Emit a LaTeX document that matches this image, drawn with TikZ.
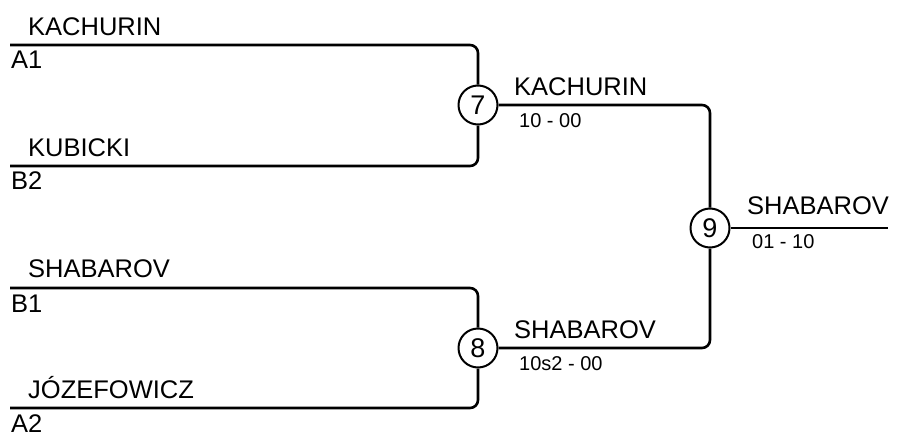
\documentclass[tikz,border=0pt]{standalone}
\usepackage{fontspec}
\setmainfont{Liberation Sans}
\usetikzlibrary{positioning}
\tikzset{
  match/.style={
    circle,
    draw=black,
    line width=2pt,
    inner sep=0pt,
    minimum size=39pt,
    font=\fontsize{27}{32}\selectfont
  },
  player/.style={
    anchor=base west,
    inner sep=0pt,
    font=\fontsize{25.5}{30}\selectfont
  },
  seed/.style={
    player
  },
  score/.style={
    anchor=base west,
    inner sep=0pt,
    font=\fontsize{20}{24}\selectfont
  },
  wire/.style={
    line width=2.6pt,
    rounded corners=8pt,
    draw=black
  }
}

\begin{document}
\begin{tikzpicture}[x=1pt,y=-1pt]
  \useasboundingbox (0,0) rectangle (897,434);

  % match circles
  \node[match] (m7) at (478,105) {7};
  \node[match] (m8) at (478,348) {8};
  \node[match] (m9) at (710,228) {9};

  % free ends of the first round lines
  \coordinate (a1) at (10,45);
  \coordinate (b2) at (10,166);
  \coordinate (b1) at (10,288);
  \coordinate (a2) at (10,408);
  \coordinate (win) at (888,228);

  % players
  \node[player] (p1) at (28,35) {KACHURIN};
  \node[seed] (s1) at (11,68) {A1};
  \node[player] (p2) at (28,156) {KUBICKI};
  \node[seed] (s2) at (11,189) {B2};
  \node[player] (p3) at (28,277) {SHABAROV};
  \node[seed] (s3) at (11,312) {B1};
  \node[player] (p4) at (28,398) {JÓZEFOWICZ};
  \node[seed] (s4) at (11,432) {A2};

  % winners and scores
  \node[player] (w7) at (514,95) {KACHURIN};
  \node[score] (r7) at (519,127) {10 - 00};
  \node[player] (w8) at (514,338) {SHABAROV};
  \node[score] (r8) at (519,370) {10s2 - 00};
  \node[player] (w9) at (747,214) {SHABAROV};
  \node[score] (r9) at (752,248) {01 - 10};

  \draw[wire] (a1) -| (m7);
  \draw[wire] (b2) -| (m7);
  \draw[wire] (b1) -| (m8);
  \draw[wire] (a2) -| (m8);
  \draw[wire] (m7) -| (m9);
  \draw[wire] (m8) -| (m9);
  \draw[wire] (m9) -- (win);
\end{tikzpicture}
\end{document}
